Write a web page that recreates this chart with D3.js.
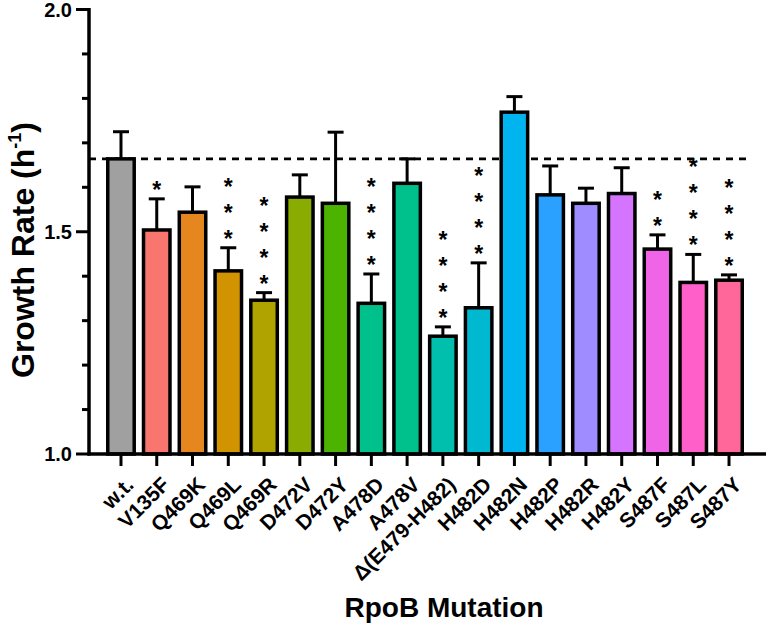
<!DOCTYPE html>
<html><head><meta charset="utf-8">
<script src="https://cdn.jsdelivr.net/npm/d3@7"></script>
<style>body{margin:0;background:#fff}svg{display:block}text{font-family:Arial,"Liberation Sans",sans-serif;font-weight:bold}</style>
</head><body><svg id="c" width="766" height="625"></svg>
<script>
const categories = ["w.t.","V135F","Q469K","Q469L","Q469R","D472V","D472Y","A478D","A478V","Δ(E479-H482)","H482D","H482N","H482P","H482R","H482Y","S487F","S487L","S487Y"];
const means = [1.664,1.504,1.544,1.412,1.346,1.578,1.564,1.339,1.609,1.265,1.329,1.769,1.583,1.564,1.586,1.461,1.386,1.391];
const errors = [0.061,0.070,0.057,0.052,0.017,0.050,0.160,0.066,0.055,0.021,0.101,0.035,0.065,0.034,0.058,0.032,0.063,0.012];
const stars = [0,1,0,3,4,0,0,4,0,4,4,0,0,0,0,2,4,4];
const colors = ["#a0a0a0","#f8766d","#e6861f","#d19400","#b0a300","#8aab00","#4cb400","#00c08b","#00c08b","#00bfad","#00b8cf","#00b4ef","#2aa0ff","#9f8cff","#d474ff","#f065e8","#ff5fc8","#ff6699"];
const yTicks = [1.0,1.5,2.0];
const yMinor = [1.1,1.2,1.3,1.4,1.6,1.7,1.8,1.9];

const svg = d3.select("#c");
const axisX = 89, baseY = 454;
const y = d3.scaleLinear().domain([1,2]).range([baseY,9.5]);
const x = d3.scaleBand().domain(categories).range([103.1,746.9]).paddingInner(0.26).paddingOuter(0.13);
const data = categories.map((c,i)=>({c,m:means[i],e:errors[i],s:stars[i],col:colors[i]}));

// dashed reference line at w.t. mean
svg.append("line").attr("x1",axisX).attr("x2",750).attr("y1",y(means[0])).attr("y2",y(means[0]))
  .attr("stroke","#000").attr("stroke-width",2.6).attr("stroke-dasharray","7,6");

// error bars (behind bars)
const eb = svg.append("g");
data.forEach(d=>{
  const cx = x(d.c)+x.bandwidth()/2;
  eb.append("line").attr("x1",cx).attr("x2",cx).attr("y1",y(d.m)).attr("y2",y(d.m+d.e)).attr("stroke","#000").attr("stroke-width",3);
  eb.append("line").attr("x1",cx-8).attr("x2",cx+8).attr("y1",y(d.m+d.e)).attr("y2",y(d.m+d.e)).attr("stroke","#000").attr("stroke-width",3);
});

// bars
svg.append("g").selectAll("rect").data(data).join("rect")
  .attr("x",d=>x(d.c)).attr("width",x.bandwidth())
  .attr("y",d=>y(d.m)).attr("height",d=>baseY-y(d.m))
  .attr("fill",d=>d.col).attr("stroke","#000").attr("stroke-width",3.5);

// stars
const sg = svg.append("g");
data.forEach(d=>{
  const cx = x(d.c)+x.bandwidth()/2;
  for(let k=0;k<d.s;k++){
    const cy = y(d.m+d.e) - 14 - k*26;
    sg.append("text").attr("x",cx).attr("y",cy+13).attr("text-anchor","middle").attr("font-size",23).text("*");
  }
});

// y axis
const ya = svg.append("g");
ya.append("line").attr("x1",axisX).attr("x2",axisX).attr("y1",y(2)-1.5).attr("y2",baseY+1.5).attr("stroke","#000").attr("stroke-width",3.5);
yTicks.forEach(t=>{
  ya.append("line").attr("x1",76).attr("x2",axisX).attr("y1",y(t)).attr("y2",y(t)).attr("stroke","#000").attr("stroke-width",3);
  ya.append("text").attr("x",72).attr("y",y(t)+7).attr("text-anchor","end").attr("font-size",20).text(d3.format(".1f")(t));
});
yMinor.forEach(t=>{
  ya.append("line").attr("x1",82).attr("x2",axisX).attr("y1",y(t)).attr("y2",y(t)).attr("stroke","#000").attr("stroke-width",3);
});

// x axis
const xa = svg.append("g");
xa.append("line").attr("x1",axisX-1.5).attr("x2",766).attr("y1",baseY).attr("y2",baseY).attr("stroke","#000").attr("stroke-width",3.5);
categories.forEach(c=>{
  const cx = x(c)+x.bandwidth()/2;
  xa.append("line").attr("x1",cx).attr("x2",cx).attr("y1",baseY).attr("y2",466).attr("stroke","#000").attr("stroke-width",3);
  xa.append("text").attr("transform",`translate(${cx+14},${486}) rotate(-45)`).attr("text-anchor","end").attr("font-size",21).text(c);
});

// titles
svg.append("text").attr("x",444).attr("y",617).attr("text-anchor","middle").attr("font-size",28).text("RpoB Mutation");
const yt = svg.append("text").attr("transform","translate(34,250) rotate(-90)").attr("text-anchor","middle").attr("font-size",32);
yt.append("tspan").text("Growth Rate (h");
yt.append("tspan").attr("font-size",18).attr("dy",-13).text("-1");
yt.append("tspan").attr("dy",13).text(")");
</script></body></html>
